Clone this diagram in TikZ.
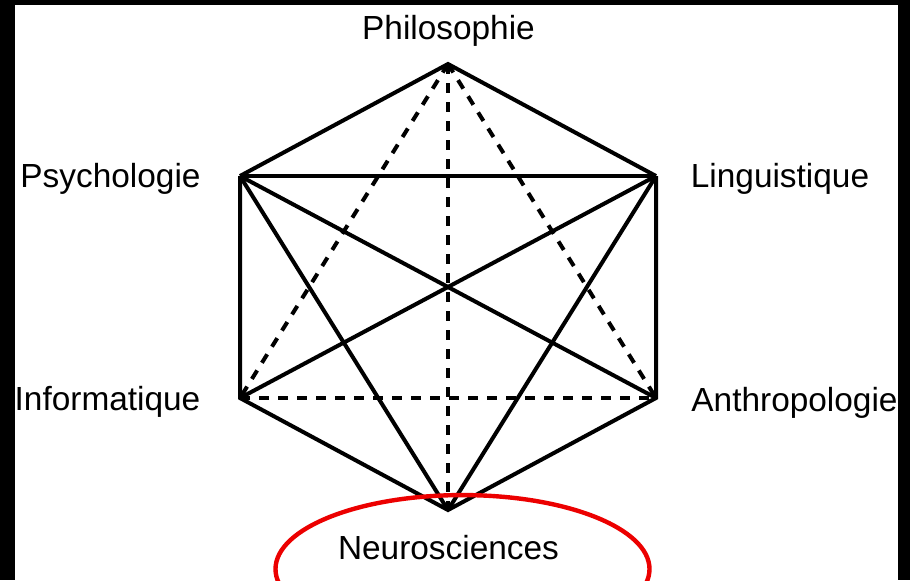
\documentclass[tikz,border=0pt]{standalone}
\usepackage{fontspec}
\setmainfont{Liberation Sans}
\usepackage{xcolor}
\usetikzlibrary{positioning}
\definecolor{ink}{RGB}{0,0,0}
\definecolor{ringred}{RGB}{236,0,0}
\tikzset{
  edge/.style={line width=2pt,draw=ink,line join=miter},
  dashedge/.style={edge,dash pattern=on 5pt off 4.5pt},
  field/.style={font=\fontsize{16.7}{20}\selectfont,text=ink,inner sep=0pt,anchor=base},
  ring/.style={line width=2.2pt,draw=ringred}
}

\begin{document}
\begin{tikzpicture}[x=0.5pt,y=-0.5pt]
  \useasboundingbox (0,0) rectangle (910,580);
  \fill[ink] (0,0) rectangle (910,580);
  \fill[white] (15,5) rectangle (898,580);

  % corners of the hexagon
  \coordinate (philo) at (448,64);
  \coordinate (psycho) at (240,176);
  \coordinate (lingu) at (656,176);
  \coordinate (info) at (240,398);
  \coordinate (anthro) at (656,398);
  \coordinate (neuro) at (448,510);

  % disciplines
  \node[field] (philolab) at (448.5,39) {Philosophie};
  \node[field] (psycholab) at (110.5,187) {Psychologie};
  \node[field] (lingulab) at (780,187) {Linguistique};
  \node[field] (infolab) at (107.5,410) {Informatique};
  \node[field] (anthrolab) at (794.5,411) {Anthropologie};
  \node[field] (neurolab) at (448.5,559) {Neurosciences};

  % dashed links
  \draw[dashedge] (philo) -- (info);
  \draw[dashedge] (philo) -- (anthro);
  \draw[dashedge] (philo) -- (neuro);
  \draw[dashedge] (info) -- (anthro);

  % solid links
  \draw[edge] (psycho) -- (philo) -- (lingu);
  \draw[edge] (psycho) -- (info) -- (neuro) -- (anthro) -- (lingu);
  \draw[edge] (psycho) -- (lingu);
  \draw[edge] (psycho) -- (anthro);
  \draw[edge] (lingu) -- (info);
  \draw[edge] (psycho) -- (neuro);
  \draw[edge] (lingu) -- (neuro);

  \draw[ring] (neurolab.center) ++(14,22) ellipse [x radius=93.5pt,y radius=37pt];
\end{tikzpicture}
\end{document}
